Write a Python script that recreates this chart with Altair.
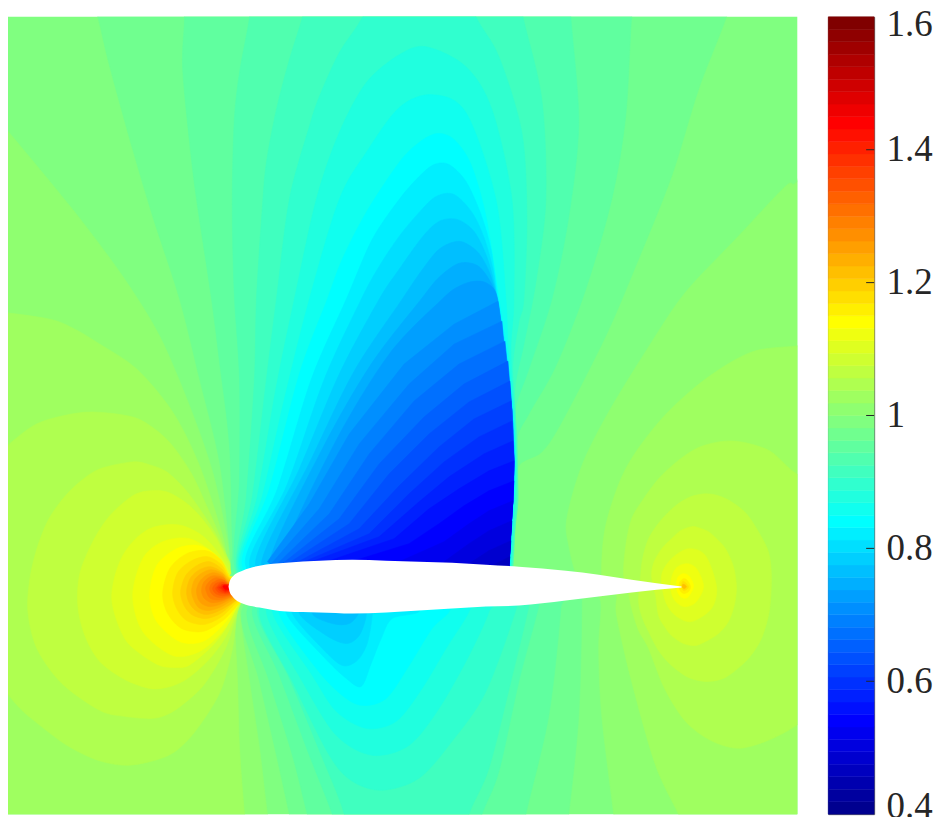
import altair as alt
import pandas as pd

# MATLAB jet(64) band colours
JET = ["#00008f","#00009f","#0000af","#0000bf","#0000cf","#0000df","#0000ef","#0000ff",
       "#0010ff","#0020ff","#0030ff","#0040ff","#0050ff","#0060ff","#0070ff","#0080ff",
       "#008fff","#009fff","#00afff","#00bfff","#00cfff","#00dfff","#00efff","#00ffff",
       "#10ffef","#20ffdf","#30ffcf","#40ffbf","#50ffaf","#60ff9f","#70ff8f","#80ff80",
       "#8fff70","#9fff60","#afff50","#bfff40","#cfff30","#dfff20","#efff10","#ffff00",
       "#ffef00","#ffdf00","#ffcf00","#ffbf00","#ffaf00","#ff9f00","#ff8f00","#ff8000",
       "#ff7000","#ff6000","#ff5000","#ff4000","#ff3000","#ff2000","#ff1000","#ff0000",
       "#ef0000","#df0000","#cf0000","#bf0000","#af0000","#9f0000","#8f0000","#800000"]
LEVELS = list(range(64))
EDGES = [0.40000,0.41875,0.43750,0.45625,0.47500,0.49375,0.51250,0.53125,0.55000,0.56875,0.58750,0.60625,0.62500,
         0.64375,0.66250,0.68125,0.70000,0.71875,0.73750,0.75625,0.77500,0.79375,0.81250,0.83125,0.85000,0.86875,
         0.88750,0.90625,0.92500,0.94375,0.96250,0.98125,1.00000,1.01875,1.03750,1.05625,1.07500,1.09375,1.11250,
         1.13125,1.15000,1.16875,1.18750,1.20625,1.22500,1.24375,1.26250,1.28125,1.30000,1.31875,1.33750,1.35625,
         1.37500,1.39375,1.41250,1.43125,1.45000,1.46875,1.48750,1.50625,1.52500,1.54375,1.56250,1.58125,1.60000]
TICKS = [0.4, 0.6, 0.8, 1.0, 1.2, 1.4, 1.6]

# airfoil outline
FOIL_X = [229,230,233,243,260,287,320,353,387,420,453,487,520,567,600,633,683]
FOIL_UP = [588,583,578,572,567,564,562,561,562,563,564,566,568,572,576,581,588]
FOIL_LO = [588,593,598,605,609,613,614,615,614,612,610,608,607,602,598,594,589]

BG = [(-40,-40),(840,-40),(840,860),(-40,860)]

# high side, leading edge lobe
L32 = [(-30,85),(0,122),(40,170),(83,223),(125,280),(160,337),(190,407),(213,473),(227,537),(232,573),(245,590),(240,610),(250,683),(260,750),(268,816),(275,860),(-30,860)]
L33 = [(-30,313),(0,313),(50,320),(75,330),(100,345),(137,370),(173,413),(200,467),(223,537),(230,573),(245,590),(235,605),(238,683),(240,750),(245,816),(250,860),(-30,860)]
L34 = [(-30,480),(0,453),(33,427),(62,417),(93,413),(133,418),(155,430),(173,447),(192,475),(207,507),(218,532),(227,557),(232,578),(245,590),(238,613),(233,650),(222,690),(207,717),(188,742),(167,758),(130,767),(98,762),(67,747),(40,727),(20,710),(0,685),(-30,640)]
L35 = [(28,613),(30,580),(37,550),(48,522),(63,500),(80,483),(100,470),(133,463),(150,466),(167,473),(185,490),(200,510),(216,535),(230,563),(245,590),(238,613),(228,645),(217,667),(203,688),(187,703),(170,715),(153,720),(125,718),(100,712),(62,685),(37,650)]
L36 = [(78,607),(80,575),(93,543),(110,517),(133,497),(150,492),(167,493),(185,503),(200,517),(217,540),(230,567),(245,590),(237,613),(227,637),(213,657),(198,672),(183,683),(167,689),(150,690),(125,681),(100,663),(85,637)]
L37 = [(112,600),(115,578),(123,557),(135,541),(150,530),(167,526),(183,527),(200,535),(213,547),(224,562),(232,577),(245,590),(235,613),(225,632),(213,647),(200,659),(187,668),(173,669),(160,667),(143,657),(127,643),(117,622)]
L38 = [(133,597),(143,560),(163,543),(190,540),(217,557),(230,580),(245,590),(235,613),(223,633),(200,653),(173,657),(143,633)]
L39 = [(150,597),(157,567),(177,550),(200,547),(220,560),(230,580),(245,590),(235,610),(223,627),(203,643),(180,643),(157,623)]
L40 = [(163,595),(170,570),(187,555),(207,552),(222,562),(231,578),(250,590),(235,610),(222,623),(203,633),(182,630),(168,615)]
L41 = [(173,594),(178,574),(192,562),(208,558),(222,566),(231,580),(250,590),(234,607),(221,619),(204,626),(187,622),(177,610)]
L42 = [(181,593),(186,577),(197,567),(210,563),(222,570),(231,581),(250,590),(233,605),(221,615),(206,620),(192,616),(184,606)]
L43 = [(187,592),(191,579),(200,571),(211,568),(222,573),(231,582),(250,590),(233,604),(220,612),(207,616),(196,612),(189,603)]
L44 = [(192,592),(195,581),(203,574),(212,571),(223,575),(230,583),(250,590),(232,602),(220,609),(208,612),(199,609),(194,601)]
L45 = [(197,591),(200,583),(206,577),(214,574),(223,577),(230,584),(250,590),(232,600),(220,606),(210,608),(202,605),(198,599)]
L46 = [(202,591),(204,584),(209,579),(215,577),(224,579),(230,585),(250,590),(231,599),(221,603),(212,604),(206,601),(203,597)]
L47 = [(206,590),(208,585),(212,581),(217,579),(224,581),(230,585),(250,590),(231,598),(222,601),(214,601),(209,598)]
L48 = [(210,590),(212,585),(215,583),(219,581),(225,582),(230,586),(250,590),(230,597),(222,599),(216,598),(212,595)]
L49 = [(213,590),(215,586),(218,584),(222,583),(226,584),(230,586),(250,590),(230,596),(223,597),(218,596),(215,594)]
L50 = [(216,590),(218,587),(220,585),(224,584),(230,587),(250,590),(229,595),(224,595),(219,594)]
L51 = [(218,589),(220,587),(223,586),(227,586),(250,590),(229,594),(224,594),(220,592)]
L52 = [(220,589),(222,587),(225,586),(250,590),(229,593),(225,593),(222,591)]
L53 = [(222,589),(224,587),(227,586),(250,590),(229,592),(225,592)]
L55 = [(224,589),(226,587),(250,590),(229,591),(226,591)]

# high side, trailing edge lobe
R32 = [(830,150),(798,183),(787,187),(737,240),(687,293),(653,343),(610,413),(583,467),(568,520),(570,547),(578,577),(590,590),(602,603),(600,650),(603,717),(615,816),(620,860),(830,860)]
R33 = [(830,345),(798,347),(753,353),(707,380),(663,420),(627,470),(607,527),(603,577),(610,590),(618,597),(618,617),(633,683),(657,767),(680,816),(700,860),(830,860)]
R34 = [(830,490),(798,475),(773,453),(752,445),(733,442),(715,444),(697,450),(678,463),(660,480),(645,500),(633,520),(627,548),(625,577),(630,595),(633,610),(640,632),(650,650),(666,690),(687,723),(712,742),(740,750),(770,742),(798,727),(830,700)]
R35 = [(773,577),(770,553),(760,533),(748,515),(733,503),(720,497),(707,495),(692,498),(677,507),(662,522),(650,540),(644,560),(642,577),(640,603),(644,620),(650,633),(660,652),(673,667),(690,679),(707,683),(722,681),(733,675),(750,660),(763,640),(771,612)]
R36 = [(738,588),(735,568),(727,550),(718,540),(710,533),(700,529),(693,528),(682,532),(673,540),(664,549),(657,560),(654,568),(653,577),(655,590),(657,597),(660,617),(666,628),(673,637),(685,645),(697,647),(707,643),(720,635),(730,623),(736,606)]
R37 = [(718,588),(707,557),(690,550),(673,560),(663,577),(667,603),(677,617),(693,623),(713,610)]
R38 = [(705,588),(698,570),(688,565),(677,570),(672,585),(675,600),(685,608),(697,604)]
R39 = [(695,588),(691,578),(685,575),(679,579),(678,590),(682,598),(689,599)]
R40 = [(692,588),(689,582),(685,580),(681,584),(681,591),(685,595),(690,593)]
R41 = [(690,588),(687,584),(684,583),(683,588),(685,592),(688,591)]
R43 = [(688,588),(686,586),(684,586),(684,589),(686,590)]

# low side, above the airfoil, up to the shock
U30 = [(300,585),(236,578),(232,573),(230,547),(220,463),(200,380),(180,300),(153,217),(133,150),(110,67),(98,17),(85,-30),(740,-30),(728,17),(700,90),(673,177),(637,267),(607,337),(563,423),(543,453),(520,467),(519,500),(516,530),(514,567),(510,585)]
U29 = [(300,585),(237,578),(233,547),(230,447),(220,363),(212,300),(197,200),(190,143),(183,67),(185,18),(185,-30),(640,-30),(633,17),(627,117),(613,200),(587,290),(557,367),(530,415),(518,442),(519,500),(516,530),(514,567),(510,585)]
U28 = [(300,585),(238,578),(240,480),(240,380),(235,300),(233,233),(233,177),(235,117),(240,73),(250,18),(255,-30),(570,-30),(572,17),(580,123),(570,217),(553,300),(530,370),(517,408),(518,442),(519,500),(516,530),(514,567),(510,585)]
U27 = [(300,585),(239,577),(247,497),(255,380),(257,300),(263,207),(267,163),(277,110),(290,60),(303,18),(315,-30),(515,-30),(524,17),(543,100),(547,200),(537,283),(525,345),(516,390),(518,442),(518,500),(516,530),(513,567),(510,585)]
U26 = [(300,585),(239,574),(253,497),(267,380),(277,300),(290,200),(310,127),(320,97),(340,53),(363,18),(385,-30),(460,-30),(477,17),(500,57),(523,133),(528,217),(525,300),(520,323),(514,365),(516,413),(517,463),(517,500),(515,530),(513,567),(510,585)]
U25 = [(300,585),(240,572),(258,497),(277,387),(295,300),(317,200),(340,133),(367,83),(400,55),(427,47),(467,67),(493,110),(513,200),(515,300),(512,350),(515,413),(517,463),(516,500),(514,530),(512,567),(510,585)]
U24 = [(300,585),(241,570),(263,497),(285,400),(310,300),(340,200),(367,153),(400,108),(433,95),(467,113),(497,200),(507,300),(509,347),(514,413),(516,463),(515,500),(513,530),(511,567),(508,585)]
U23 = [(300,585),(243,568),(270,490),(300,375),(328,300),(343,260),(367,213),(400,163),(420,143),(438,134),(455,140),(472,165),(487,217),(500,300),(507,347),(514,413),(516,463),(515,500),(513,530),(511,567),(508,585)]
U22 = [(300,585),(246,566),(278,490),(312,380),(347,300),(373,240),(400,200),(420,177),(435,165),(450,165),(467,182),(482,215),(492,250),(499,300),(506,347),(513,413),(515,463),(514,500),(512,530),(510,567),(508,585)]
U21 = [(300,585),(250,566),(288,485),(325,380),(362,300),(380,267),(400,237),(420,213),(437,197),(455,195),(473,213),(485,238),(494,270),(498,300),(506,347),(513,413),(515,463),(514,500),(512,530),(510,567),(508,585)]
U20 = [(300,585),(256,565),(300,470),(340,375),(380,300),(400,270),(423,238),(440,222),(458,220),(475,232),(488,258),(497,293),(505,347),(513,413),(515,463),(514,500),(512,530),(510,567),(508,585)]
U19 = [(300,585),(262,565),(312,460),(355,372),(403,300),(422,272),(440,250),(460,242),(478,252),(490,272),(498,300),(505,347),(513,413),(515,463),(514,500),(512,530),(510,567),(508,585)]
U18 = [(300,585),(270,564),(323,450),(372,365),(422,300),(440,278),(460,264),(478,266),(490,280),(498,300),(505,347),(513,413),(515,463),(514,500),(512,530),(510,567),(508,585)]
U17 = [(300,585),(280,564),(335,445),(390,355),(443,300),(460,287),(475,282),(488,284),(498,297),(505,347),(513,413),(515,463),(514,500),(512,530),(510,567),(508,585)]
U16 = [(300,585),(268,563),(310,505),(350,435),(405,365),(455,325),(499,302),(505,347),(513,413),(515,463),(514,500),(512,530),(510,567),(508,585)]
U15 = [(300,585),(272,565),(320,510),(360,445),(410,385),(455,345),(503,322),(505,347),(513,413),(515,463),(514,500),(512,530),(510,567),(508,585)]
U14 = [(300,585),(277,566),(330,515),(370,455),(415,402),(460,365),(506,342),(513,413),(515,463),(514,500),(512,530),(510,567),(508,585)]
U13 = [(300,585),(283,565),(340,520),(380,465),(425,418),(465,385),(509,362),(513,413),(515,463),(514,500),(512,530),(510,567),(508,585)]
U12 = [(300,585),(290,564),(350,525),(390,475),(430,435),(470,403),(511,382),(513,413),(515,463),(514,500),(512,530),(510,567),(508,585)]
U11 = [(300,585),(297,564),(360,530),(400,487),(440,448),(475,420),(512,402),(515,463),(514,500),(512,530),(510,567),(508,585)]
U10 = [(305,585),(305,563),(370,535),(410,495),(445,463),(480,438),(513,422),(515,463),(514,500),(512,530),(510,567),(508,585)]
U9 = [(315,585),(315,562),(380,538),(420,503),(450,478),(485,455),(514,442),(515,463),(514,500),(512,530),(510,567),(508,585)]
U8 = [(330,585),(330,562),(395,540),(430,510),(460,490),(490,472),(515,462),(514,500),(512,530),(510,567),(508,585)]
U7 = [(355,585),(355,562),(410,545),(440,525),(465,507),(490,492),(515,482),(514,500),(512,530),(510,567),(508,585)]
U6 = [(400,585),(400,563),(445,543),(470,525),(490,512),(514,502),(512,530),(510,567),(508,585)]
U5 = [(445,585),(445,563),(470,545),(490,532),(513,522),(510,567),(508,585)]
U4 = [(470,585),(470,565),(490,552),(512,542),(510,567),(508,585)]
U3 = [(495,585),(495,566),(511,558),(510,567),(508,585)]

# low side, below the airfoil
D30 = [(300,590),(243,610),(260,683),(277,757),(290,816),(300,860),(565,860),(570,816),(580,717),(583,603),(580,590)]
D29 = [(300,590),(248,610),(270,683),(293,757),(308,816),(320,860),(520,860),(527,816),(550,717),(562,610),(560,590)]
D28 = [(300,590),(253,610),(280,677),(310,757),(333,816),(345,860),(470,860),(483,816),(500,773),(520,683),(540,607),(540,590)]
D27 = [(300,590),(258,612),(290,680),(322,757),(345,816),(350,860),(460,860),(470,816),(490,770),(512,683),(530,607),(530,590)]
D26 = [(300,590),(260,613),(293,683),(330,757),(353,783),(383,792),(420,780),(453,743),(487,693),(518,608),(518,590)]
D25 = [(300,595),(267,613),(303,683),(337,737),(373,757),(410,747),(440,710),(470,657),(490,613),(490,595)]
D24 = [(300,595),(273,613),(313,677),(337,713),(367,730),(397,723),(423,690),(447,650),(470,613),(470,595)]
D23 = [(300,595),(280,615),(317,670),(343,697),(363,707),(387,700),(410,667),(433,630),(450,613),(450,595)]
D22 = [(300,595),(287,615),(323,657),(347,680),(362,688),(372,665),(382,640),(393,620),(420,613),(420,595)]
D21 = [(300,595),(293,615),(323,650),(343,667),(358,662),(368,645),(373,617),(373,595)]
D20 = [(310,595),(300,615),(327,637),(347,645),(360,637),(367,617),(367,595)]
D19 = [(325,595),(313,615),(333,625),(350,625),(360,613),(360,595)]

SMOOTH = [
    (31,BG),(32,L32),(33,L33),(34,L34),(35,L35),(36,L36),(37,L37),(38,L38),(39,L39),(40,L40),(41,L41),(42,L42),
    (43,L43),(44,L44),(45,L45),(46,L46),(47,L47),(48,L48),(49,L49),(50,L50),(51,L51),(52,L52),(53,L53),(55,L55),
    (32,R32),(33,R33),(34,R34),(35,R35),(36,R36),(37,R37),(38,R38),(39,R39),(40,R40),(41,R41),(43,R43),
    (30,U30),(29,U29),(28,U28),(27,U27),(26,U26),(25,U25),(24,U24),(23,U23),(22,U22),(21,U21),(20,U20),(19,U19),
    (18,U18),(17,U17),
    (30,D30),(29,D29),(28,D28),(27,D27),(26,D26),(25,D25),(24,D24),(23,D23),(22,D22),(21,D21),(20,D20),(19,D19),
]
SHARP = [(16,U16),(15,U15),(14,U14),(13,U13),(12,U12),(11,U11),(10,U10),(9,U9),(8,U8),(7,U7),(6,U6),(5,U5),(4,U4),(3,U3)]


def table(contours):
    rows = []
    for pid, (level, pts) in enumerate(contours):
        for seq, (px, py) in enumerate(pts):
            rows.append({"poly": pid, "level": level, "seq": seq, "px": px, "py": py})
    return pd.DataFrame(rows)


foil = pd.DataFrame({"px": FOIL_X, "up": FOIL_UP, "lo": FOIL_LO})

xs = alt.Scale(domain=[8, 799], nice=False, zero=False)
ys = alt.Scale(domain=[816, 17], nice=False, zero=False)
color_scale = alt.Scale(domain=LEVELS, range=JET)
enc = dict(
    x=alt.X("px:Q", scale=xs, axis=None),
    y=alt.Y("py:Q", scale=ys, axis=None),
    fill=alt.Fill("level:O", scale=color_scale, legend=None),
    stroke=alt.Stroke("level:O", scale=color_scale, legend=None),
    detail="poly:N",
    order="seq:Q",
)
smooth = alt.Chart(table(SMOOTH)).mark_line(interpolate="cardinal-closed", tension=0.1, clip=True, strokeWidth=0.6).encode(**enc)
sharp = alt.Chart(table(SHARP)).mark_line(interpolate="linear-closed", clip=True, strokeWidth=0.6).encode(**enc)
wing = alt.Chart(foil).mark_area(interpolate="monotone", color="white", clip=True).encode(
    x=alt.X("px:Q", scale=xs, axis=None),
    y=alt.Y("up:Q", scale=ys, axis=None),
    y2="lo:Q",
)
main = alt.layer(smooth, sharp, wing).properties(width=791, height=799, view=alt.ViewConfig(stroke=None))

bands = pd.DataFrame({"level": LEVELS, "lo": EDGES[:-1], "hi": EDGES[1:]})
ticks = pd.DataFrame({"v": TICKS})
cs = alt.Scale(domain=[0.4, 1.6], nice=False, zero=False)
bar = alt.Chart(bands).mark_rect(strokeWidth=0.5).encode(
    x=alt.value(0), x2=alt.value(46),
    y=alt.Y("lo:Q", scale=cs, axis=alt.Axis(
        orient="right", values=TICKS, title=None, grid=False, ticks=False, domain=False,
        labelFont="Liberation Serif", labelFontSize=37, labelColor="#262626", labelPadding=12,
        labelExpr="datum.value == 1 ? '1' : format(datum.value, '.1f')",
        labelOverlap=False, labelFlush=False,
        labelOffset={"condition": [{"test": "datum.value > 1.55", "value": 8}, {"test": "datum.value < 0.45", "value": -8}], "value": 0},
    )),
    y2="hi:Q",
    fill=alt.Fill("level:O", scale=color_scale, legend=None),
    stroke=alt.Stroke("level:O", scale=color_scale, legend=None),
)
marks = alt.Chart(ticks[(ticks.v > 0.45) & (ticks.v < 1.55)]).mark_rule(color="#262626", strokeWidth=1).encode(
    x=alt.value(38), x2=alt.value(46), y=alt.Y("v:Q", scale=cs),
)
cbar = alt.layer(bar, marks).properties(width=46, height=799, view=alt.ViewConfig(stroke="#555555"))

chart = alt.hconcat(main, cbar, spacing=30).resolve_scale(fill="independent", stroke="independent").properties(
    padding={"left": 0, "top": -4, "right": 0, "bottom": -9}, background="white"
)
chart.save("out.html", embed_options={"renderer": "svg", "actions": False})
